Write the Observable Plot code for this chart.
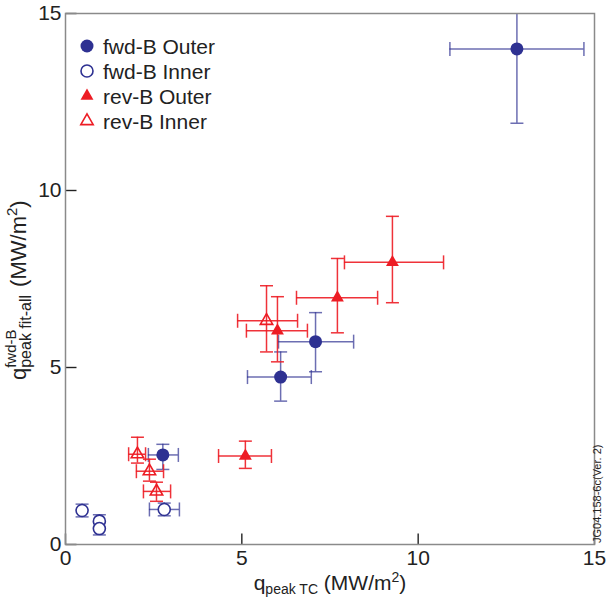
<!DOCTYPE html>
<html><head><meta charset="utf-8">
<script src="https://cdn.jsdelivr.net/npm/d3@7"></script>
<script src="https://cdn.jsdelivr.net/npm/@observablehq/plot@0.6"></script>
<style>body{margin:0;background:#fff;} #chart{width:608px;height:601px;}</style>
</head><body><div id="chart"></div>
<script>
const seriesNames = ["fwd-B Outer", "fwd-B Inner", "rev-B Outer", "rev-B Inner"];
const xTicks = [0, 5, 10, 15];
const yTicks = [0, 5, 10, 15];

// fwd-B Outer
const fwdOuterX   = [12.8, 7.09, 6.10, 2.76];
const fwdOuterY   = [14.0, 5.73, 4.73, 2.53];
const fwdOuterXLo = [10.9, 6.04, 5.16, 2.35];
const fwdOuterXHi = [14.7, 8.17, 6.97, 3.20];
const fwdOuterYLo = [11.9, 4.88, 4.05, 2.12];
const fwdOuterYHi = [16.1, 6.55, 5.44, 2.83];
// fwd-B Inner
const fwdInnerX   = [0.47, 0.96, 0.96, 2.80];
const fwdInnerY   = [0.96, 0.66, 0.45, 0.99];
const fwdInnerXLo = [0.47, 0.96, 0.96, 2.38];
const fwdInnerXHi = [0.47, 0.96, 0.96, 3.23];
const fwdInnerYLo = [0.78, 0.48, 0.27, 0.81];
const fwdInnerYHi = [1.14, 0.84, 0.63, 1.17];
// rev-B Outer
const revOuterX   = [9.27, 7.71, 6.01, 5.10];
const revOuterY   = [7.97, 6.97, 6.04, 2.50];
const revOuterXLo = [7.91, 6.55, 5.13, 4.34];
const revOuterXHi = [10.72, 8.85, 6.86, 5.84];
const revOuterYLo = [6.83, 5.98, 5.16, 2.15];
const revOuterYHi = [9.27, 8.08, 7.00, 2.92];
// rev-B Inner
const revInnerX   = [5.70, 2.04, 2.38, 2.58];
const revInnerY   = [6.32, 2.55, 2.07, 1.50];
const revInnerXLo = [4.88, 1.79, 2.01, 2.21];
const revInnerXHi = [6.58, 2.27, 2.78, 2.98];
const revInnerYLo = [5.44, 2.30, 1.79, 1.22];
const revInnerYHi = [7.31, 3.03, 2.41, 1.76];

const BLUE = "#2e3192", RED = "#ed1c24";
const TICK = 11;
function rows(name, X, Y, XL, XH, YL, YH) {
  return X.map((x, i) => ({series: name, x, y: Y[i], xlo: XL[i], xhi: XH[i], ylo: YL[i], yhi: YH[i]}));
}
const fwdOuter = rows(seriesNames[0], fwdOuterX, fwdOuterY, fwdOuterXLo, fwdOuterXHi, fwdOuterYLo, fwdOuterYHi);
const fwdInner = rows(seriesNames[1], fwdInnerX, fwdInnerY, fwdInnerXLo, fwdInnerXHi, fwdInnerYLo, fwdInnerYHi);
const revOuter = rows(seriesNames[2], revOuterX, revOuterY, revOuterXLo, revOuterXHi, revOuterYLo, revOuterYHi);
const revInner = rows(seriesNames[3], revInnerX, revInnerY, revInnerXLo, revInnerXHi, revInnerYLo, revInnerYHi);

const hcap = {draw(ctx, size) { const r = Math.sqrt(size / Math.PI); ctx.moveTo(-r, 0); ctx.lineTo(r, 0); }};
const vcap = {draw(ctx, size) { const r = Math.sqrt(size / Math.PI); ctx.moveTo(0, -r); ctx.lineTo(0, r); }};

function errorBars(data, color, op) {
  const hx = data.filter(d => d.xhi > d.xlo);
  return [
    Plot.ruleY(hx, {y: "y", x1: "xlo", x2: "xhi", stroke: color, strokeWidth: 1.5, strokeOpacity: op, clip: true}),
    Plot.dot(hx, {x: "xlo", y: "y", symbol: vcap, r: 7, stroke: color, strokeWidth: 1.5, strokeOpacity: op, fill: "none", clip: true}),
    Plot.dot(hx, {x: "xhi", y: "y", symbol: vcap, r: 7, stroke: color, strokeWidth: 1.5, strokeOpacity: op, fill: "none", clip: true}),
    Plot.ruleX(data, {x: "x", y1: "ylo", y2: "yhi", stroke: color, strokeWidth: 1.5, strokeOpacity: op, clip: true}),
    Plot.dot(data, {x: "x", y: "ylo", symbol: hcap, r: 6.5, stroke: color, strokeWidth: 1.5, strokeOpacity: op, fill: "none", clip: true}),
    Plot.dot(data, {x: "x", y: "yhi", symbol: hcap, r: 6.5, stroke: color, strokeWidth: 1.5, strokeOpacity: op, fill: "none", clip: true})
  ];
}

const plot = Plot.plot({
  width: 608, height: 601,
  marginLeft: 65, marginRight: 14, marginTop: 13, marginBottom: 57,
  style: {fontFamily: "'Liberation Sans', Arial, sans-serif", fontSize: "21px", color: "#222", background: "white", overflow: "visible"},
  x: {domain: [0, 15]},
  y: {domain: [0, 15]},
  marks: [
    ...errorBars(fwdOuter, BLUE, 0.7),
    ...errorBars(fwdInner, BLUE, 0.7),
    ...errorBars(revOuter, RED, 0.9),
    ...errorBars(revInner, RED, 0.9),
    Plot.dot(fwdInner, {x: "x", y: "y", r: 6, stroke: BLUE, strokeWidth: 1.6, fill: "white"}),
    Plot.dot(fwdOuter, {x: "x", y: "y", r: 6.5, fill: BLUE, stroke: "none"}),
    Plot.dot(revInner, {x: "x", y: "y", symbol: "triangle", r: 4.6, stroke: RED, strokeWidth: 1.6, fill: "none"}),
    Plot.dot(revOuter, {x: "x", y: "y", symbol: "triangle", r: 4.8, fill: RED, stroke: "none"}),
    // inward tick marks on the bottom and left axes
    Plot.dot(xTicks, {x: d => d, y: () => 0, symbol: vcap, r: TICK / 2, dy: -TICK / 2, stroke: "#222", strokeWidth: 1.4, fill: "none"}),
    Plot.dot(yTicks, {x: () => 0, y: d => d, symbol: hcap, r: TICK / 2, dx: TICK / 2, stroke: "#222", strokeWidth: 1.4, fill: "none"}),
    Plot.frame({stroke: "#8a8a8a", strokeWidth: 1.5}),
    Plot.axisX(xTicks, {tickSize: 0, tickPadding: 6, fontSize: 21, label: null, fill: "#222"}),
    Plot.axisY(yTicks, {tickSize: 0, tickPadding: 4, fontSize: 21, label: null, fill: "#222"})
  ]
});
document.getElementById("chart").appendChild(plot);

const svg = d3.select(plot);
const font = "'Liberation Sans', Arial, sans-serif";
function txt(sel) { return sel.attr("font-family", font).attr("fill", "#222").attr("text-anchor", "start"); }

// x-axis title
const xt = txt(svg.append("text")).attr("x", 330).attr("y", 590).attr("text-anchor", "middle").attr("font-size", 21);
xt.append("tspan").text("q");
xt.append("tspan").attr("font-size", 14).attr("dy", 4).text("peak TC");
xt.append("tspan").attr("dy", -4).text(" (MW/m");
xt.append("tspan").attr("font-size", 14).attr("dy", -8).text("2");
xt.append("tspan").attr("dy", 8).text(")");

// y-axis title
const yg = svg.append("g").attr("transform", "translate(26,285) rotate(-90)");
txt(yg.append("text")).attr("x", -95).attr("y", 0).attr("font-size", 22).text("q");
txt(yg.append("text")).attr("x", -95 + 12.2).attr("y", -10).attr("font-size", 15).text("fwd-B");
txt(yg.append("text")).attr("x", -95 + 12.2).attr("y", 5).attr("font-size", 16).text("peak fit-all");
const yt3 = txt(yg.append("text")).attr("x", -8).attr("y", 0).attr("font-size", 22);
yt3.append("tspan").text(" (MW/m");
yt3.append("tspan").attr("font-size", 15).attr("dy", -9).text("2");
yt3.append("tspan").attr("dy", 9).text(")");

// legend
const legendItems = [
  {name: seriesNames[0], sym: d3.symbolCircle, r: 6.5, fill: BLUE, stroke: "none"},
  {name: seriesNames[1], sym: d3.symbolCircle, r: 6, fill: "white", stroke: BLUE},
  {name: seriesNames[2], sym: d3.symbolTriangle, r: 4.8, fill: RED, stroke: "none"},
  {name: seriesNames[3], sym: d3.symbolTriangle, r: 4.6, fill: "none", stroke: RED}
];
legendItems.forEach((it, i) => {
  const y = 46 + i * 25;
  svg.append("path").attr("transform", `translate(87,${y})`)
    .attr("d", d3.symbol(it.sym, Math.PI * it.r * it.r)())
    .attr("fill", it.fill).attr("stroke", it.stroke).attr("stroke-width", 1.6);
  txt(svg.append("text")).attr("x", 103).attr("y", y + 7.5).attr("font-size", 21).text(it.name);
});

// watermark
txt(svg.append("text")).attr("transform", "translate(601,543) rotate(-90)")
  .attr("font-size", 11).text("JG04.158-6c(Ver. 2)");
</script>
</body></html>
